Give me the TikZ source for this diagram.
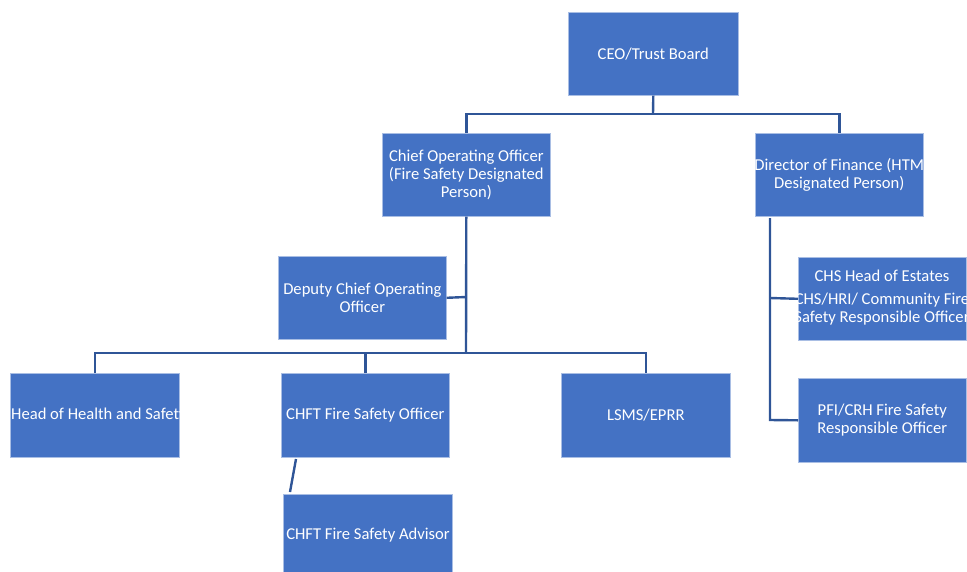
\documentclass[tikz,border=0pt]{standalone}
\usepackage{fontspec}
\setmainfont{Carlito}
\definecolor{boxblue}{HTML}{4472C4}
\definecolor{lineblue}{HTML}{2F5597}
\definecolor{edgeblue}{HTML}{A9BEE4}
\begin{document}
\begin{tikzpicture}[x=1pt,y=-1pt,
  box/.style={fill=boxblue, draw=edgeblue, line width=0.6pt, inner sep=0pt, anchor=north west},
  lbl/.style={text=white, font=\fontsize{16.6}{17.7}\selectfont, align=center, inner sep=0pt},
  conn/.style={draw=lineblue, line width=2.4pt}]
\clip (0,0) rectangle (967,571);
% boxes
\node[box, minimum width=170pt, minimum height=83pt] (ceo) at (568,12) {};
\node[box, minimum width=168pt, minimum height=83pt] (coo) at (382,133) {};
\node[box, minimum width=168pt, minimum height=83pt] (dof) at (755,133) {};
\node[box, minimum width=168pt, minimum height=83pt] (dep) at (278,256) {};
\node[box, minimum width=169pt, minimum height=84pt] (hs) at (10,373) {};
\node[box, minimum width=168pt, minimum height=84pt] (fso) at (281,373) {};
\node[box, minimum width=169pt, minimum height=84pt] (lsms) at (561,373) {};
\node[box, minimum width=169pt, minimum height=90pt] (adv) at (283,494) {};
\node[box, minimum width=168pt, minimum height=83pt] (chs) at (798,257) {};
\node[box, minimum width=168pt, minimum height=84pt] (pfi) at (798,378) {};
% texts
\node[lbl] (ceoT) at (ceo.center) {CEO/Trust Board};
\node[lbl] (cooT) at (coo.center) {Chief Operating Officer\\(Fire Safety Designated\\Person)};
\node[lbl] (dofT) at (dof.center) {Director of Finance (HTM\\Designated Person)};
\node[lbl] (depT) at (dep.center) {Deputy Chief Operating\\Officer};
\begin{scope}
  \clip (hs.north west) rectangle (hs.south east);
  \node[lbl, anchor=west] (hsT) at ([xshift=1pt]hs.west) {Head of Health and Safety};
\end{scope}
\node[lbl] (fsoT) at (fso.center) {CHFT Fire Safety Officer};
\node[lbl] (lsmsT) at (lsms.center) {LSMS/EPRR};
\node[lbl] (advT) at (368,535) {CHFT Fire Safety Advisor};
\begin{scope}
  \clip (chs.north west) rectangle (chs.south east);
  \node[lbl] (chsT1) at (882,276) {CHS Head of Estates};
  \node[lbl] (chsT2) at (882,309) {CHS/HRI/ Community Fire\\Safety Responsible Officer};
\end{scope}
\node[lbl] (pfiT) at (pfi.center) {PFI/CRH Fire Safety\\Responsible Officer};
% connectors
\coordinate (bus1) at (653,114);
\coordinate (bus2) at (466,353);
\coordinate (depJ) at (466,297);
\coordinate (a1) at (296,459);
\coordinate (a2) at (290,492);
\coordinate (d0) at (770,218);
\coordinate (d1) at (770,298);
\coordinate (d2) at (770,420);
\draw[conn] (ceo.south) -- (bus1);
\draw[conn] (coo.north) |- (bus1) -| (dof.north);
\draw[conn] (coo.south) -- (bus2);
\draw[conn] (dep.east) -- (depJ);
\draw[conn] (hs.north) |- (bus2) -| (lsms.north);
\draw[conn] (fso.north) -- (fso.north |- bus2);
\draw[conn] (a1) -- (a2);
\draw[conn] (d0) -- (d2) -- (pfi.west);
\draw[conn] (d1) -- (chs.west);
\end{tikzpicture}
\end{document}
